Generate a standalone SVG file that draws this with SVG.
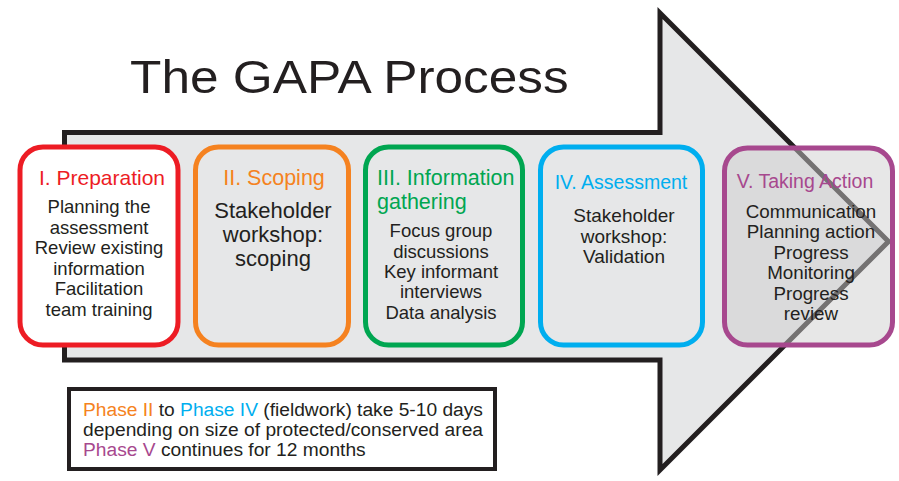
<svg xmlns="http://www.w3.org/2000/svg" width="899" height="481" viewBox="0 0 899 481">
<style>
text{font-family:"Liberation Sans",Arial,sans-serif;fill:#231f20}
.box{stroke-width:5}
.bd{font-size:18.5px;text-anchor:middle}
.red{fill:#ed1c24}.org{fill:#f58220}.grn{fill:#00a651}.blu{fill:#00aeef}.pur{fill:#a7488e}
</style>
<rect width="899" height="481" fill="#ffffff"/>
<g id="arrow">
<path d="M64.5,132.5 H660 V13 L888.5,241.5 L660,470 V360 H64.5 Z" fill="#e6e7e8" stroke="#231f20" stroke-width="5" stroke-linejoin="miter"/>
</g>
<g id="title">
<text transform="translate(130,93) scale(1.117,1)" x="0" y="0" font-size="46">The GAPA Process</text>
</g>
<g id="connectors"></g>
<g id="phase1">
<rect class="box" x="20" y="147" width="158" height="198" rx="23" fill="#ffffff" stroke="#ed1c24"/>
<text class="red" x="102" y="185" font-size="21" text-anchor="middle">I. Preparation</text>
<text class="bd" x="99"><tspan x="99" y="213">Planning the</tspan><tspan x="99" y="233.5">assessment</tspan><tspan x="99" y="254">Review existing</tspan><tspan x="99" y="274.5">information</tspan><tspan x="99" y="295">Facilitation</tspan><tspan x="99" y="315.5">team training</tspan></text>
</g>
<g id="phase2">
<rect class="box" x="195.5" y="147" width="153" height="198" rx="23" fill="none" stroke="#f58220"/>
<text class="org" x="274" y="185" font-size="21.5" text-anchor="middle">II. Scoping</text>
<text class="bd" x="273" style="font-size:22px"><tspan x="273" y="218">Stakeholder</tspan><tspan x="273" y="242">workshop:</tspan><tspan x="273" y="266">scoping</tspan></text>
</g>
<g id="phase3">
<rect class="box" x="365.5" y="147" width="157" height="198" rx="23" fill="none" stroke="#00a651"/>
<text class="grn" x="377" y="185" font-size="21.5"><tspan x="377" y="185">III. Information</tspan><tspan x="377" y="209">gathering</tspan></text>
<text class="bd" x="441"><tspan x="441" y="237">Focus group</tspan><tspan x="441" y="257.5">discussions</tspan><tspan x="441" y="278">Key informant</tspan><tspan x="441" y="298">interviews</tspan><tspan x="441" y="318.5">Data analysis</tspan></text>
</g>
<g id="phase4">
<rect class="box" x="540.5" y="147" width="162" height="198" rx="23" fill="none" stroke="#00aeef"/>
<text class="blu" x="621" y="189" font-size="19.5" text-anchor="middle">IV. Assessment</text>
<text class="bd" x="624" style="font-size:19px"><tspan x="624" y="222">Stakeholder</tspan><tspan x="624" y="242.5">workshop:</tspan><tspan x="624" y="263">Validation</tspan></text>
</g>
<g id="phase5">
<rect class="box" x="724.5" y="148" width="168" height="197" rx="23" fill="#cdcdcd" fill-opacity="0.48" stroke="#a7488e"/>
<text class="pur" x="805" y="188" font-size="19.5" text-anchor="middle">V. Taking Action</text>
<text class="bd" x="811" style="font-size:18.8px"><tspan x="811" y="218">Communication</tspan><tspan x="811" y="238">Planning action</tspan><tspan x="811" y="258.5">Progress</tspan><tspan x="811" y="279">Monitoring</tspan><tspan x="811" y="299.5">Progress</tspan><tspan x="811" y="320">review</tspan></text>
</g>
<g id="note">
<rect x="69" y="389" width="426" height="80" fill="#ffffff" stroke="#231f20" stroke-width="4"/>
<text font-size="19.2"><tspan x="83" y="415.5"><tspan class="org">Phase II</tspan> to <tspan class="blu">Phase IV</tspan> (fieldwork) take 5-10 days</tspan><tspan x="83" y="436">depending on size of protected/conserved area</tspan><tspan x="83" y="456"><tspan class="pur">Phase V</tspan> continues for 12 months</tspan></text>
</g>
</svg>
